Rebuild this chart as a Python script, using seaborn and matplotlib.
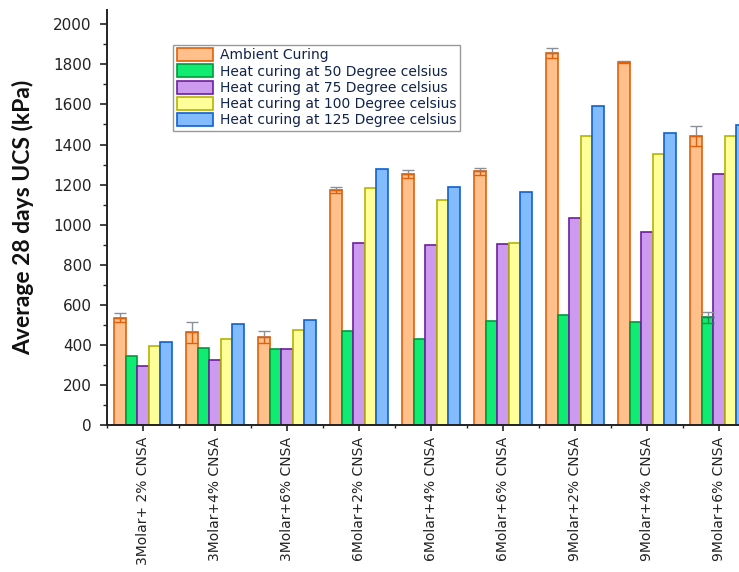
import numpy as np
import pandas as pd
import matplotlib
matplotlib.use("Agg")
import matplotlib.pyplot as plt
import seaborn as sns

# Mix designs on the x axis
mixes = ["3Molar+ 2% CNSA", "3Molar+4% CNSA", "3Molar+6% CNSA",
         "6Molar+2% CNSA", "6Molar+4% CNSA", "6Molar+6% CNSA",
         "9Molar+2% CNSA", "9Molar+4% CNSA", "9Molar+6% CNSA"]

# Curing regimes (legend entries)
curing = ["Ambient Curing",
          "Heat curing at 50 Degree celsius",
          "Heat curing at 75 Degree celsius",
          "Heat curing at 100 Degree celsius",
          "Heat curing at 125 Degree celsius"]

# Average 28-day UCS (kPa) for each curing regime
ambient = [536, 463, 438, 1173, 1253, 1267, 1855, 1812, 1443]
heat50 = [346, 383, 378, 468, 429, 521, 549, 516, 538]
heat75 = [292, 325, 378, 907, 897, 902, 1032, 962, 1255]
heat100 = [393, 429, 473, 1185, 1122, 907, 1443, 1353, 1443]
heat125 = [413, 504, 523, 1277, 1190, 1165, 1594, 1456, 1496]

# Standard deviations (kPa)
ambient_err = [21, 53, 31, 14, 20, 18, 25, 7, 50]
heat50_err = [0, 0, 0, 0, 0, 0, 0, 0, 28]
heat75_err = [0, 0, 0, 0, 0, 0, 0, 0, 0]
heat100_err = [0, 0, 0, 0, 0, 0, 0, 0, 0]
heat125_err = [0, 0, 0, 0, 0, 0, 0, 0, 0]

series = [ambient, heat50, heat75, heat100, heat125]
errors = [ambient_err, heat50_err, heat75_err, heat100_err, heat125_err]

face_colors = ["#FFC08C", "#10EC72", "#CC9AEE", "#FFFF99", "#82BCFF"]
edge_colors = ["#E0600A", "#009A3C", "#6E1E9E", "#B4B400", "#1060D0"]

df = pd.DataFrame({
    "mix": np.tile(mixes, len(curing)),
    "curing": np.repeat(curing, len(mixes)),
    "ucs": np.concatenate(series),
})

sns.set_style("ticks")
plt.rcParams["font.family"] = ["DejaVu Sans"]

fig = plt.figure(figsize=(7.39, 5.72), dpi=100)
ax = fig.add_axes([0.1448, 0.257, 0.877, 0.725])

sns.barplot(data=df, x="mix", y="ucs", hue="curing", order=mixes,
            hue_order=curing, palette=face_colors, saturation=1,
            errorbar=None, width=0.8, gap=0, linewidth=1.2, legend=False,
            ax=ax, zorder=2)

for cont, ec, err in zip(ax.containers, edge_colors, errors):
    for bar in cont.patches:
        bar.set_edgecolor(ec)
        bar.set_linewidth(1.2)
    xs = np.array([b.get_x() + b.get_width() / 2 for b in cont.patches])
    ys = np.array([b.get_height() for b in cont.patches])
    e = np.array(err, dtype=float)
    m = e > 0
    if m.any():
        # upper whisker in grey, lower half drawn inside the bar
        ax.errorbar(xs[m], ys[m], yerr=[np.zeros(m.sum()), e[m]], fmt="none",
                    ecolor="#8a8f98", elinewidth=1.0, capsize=4, capthick=1.0,
                    zorder=3)
        ax.errorbar(xs[m], ys[m], yerr=[e[m], np.zeros(m.sum())], fmt="none",
                    ecolor=ec, elinewidth=1.0, capsize=4, capthick=1.0,
                    zorder=3)

ax.set_xlim(-0.5, 8.5)
ax.set_ylim(0, 2070)
ax.set_yticks(np.arange(0, 2001, 200))
ax.set_yticks(np.arange(100, 2001, 200), minor=True)
ax.set_xticks(np.arange(-0.5, 9, 1.0), minor=True)

ax.set_xlabel("")
ax.set_ylabel("Average 28 days UCS (kPa)", family=["Lato", "DejaVu Sans"],
              fontweight="bold", fontsize=16.5, color="#111111")
ax.yaxis.set_label_coords(-0.113, 0.5)

ax.tick_params(axis="y", which="major", length=5, width=1.2, pad=6,
               labelsize=11, colors="#222222", direction="out")
ax.tick_params(axis="y", which="minor", length=3, width=1.0, direction="out",
               colors="#222222")
ax.tick_params(axis="x", which="major", length=4.5, width=1.2, pad=4,
               labelsize=10, colors="#222222", direction="out")
ax.tick_params(axis="x", which="minor", length=2.5, width=1.0,
               direction="out", colors="#222222")
plt.setp(ax.get_xticklabels(), rotation=90, ha="center", va="top")

sns.despine(ax=ax, top=True, right=True)
for s in ("left", "bottom"):
    ax.spines[s].set_linewidth(1.4)
    ax.spines[s].set_color("#222222")

leg = ax.legend(ax.containers, curing, loc="upper left",
                bbox_to_anchor=(0.102, 0.917), borderaxespad=0,
                fontsize=10, handlelength=2.65, handleheight=1.05,
                labelspacing=0.15, handletextpad=0.45, borderpad=0.25,
                fancybox=False, framealpha=1, edgecolor="#999999")
leg.get_frame().set_linewidth(1.0)
for t in leg.get_texts():
    t.set_color("#10234a")

fig.savefig("out.png", dpi=100)
